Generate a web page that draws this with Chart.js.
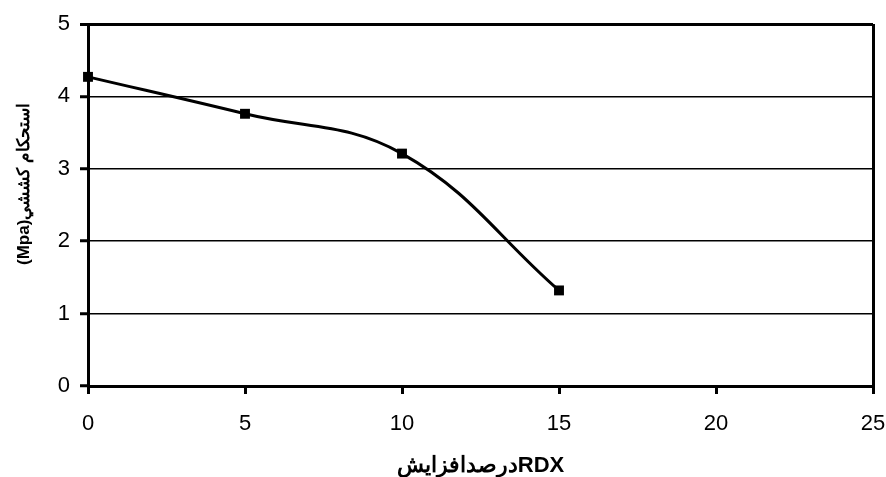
<!DOCTYPE html>
<html>
<head>
<meta charset="utf-8">
<script src="https://cdn.jsdelivr.net/npm/chart.js@4"></script>
<style>
    html, body { margin: 0; padding: 0; background: #fff; }
    #wrap { width: 886px; height: 477px; }
</style>
</head>
<body>
<div id="wrap"><canvas id="chartRdx"></canvas></div>
<script>
// valores
const rdxPercent = [0, 5, 10, 15];
const tensileStrength = [4.27, 3.76, 3.21, 1.32];
const xTicks = [0, 5, 10, 15, 20, 25];
const yTicks = [0, 1, 2, 3, 4, 5];
// LRM al inicio para que RDX quede a la derecha
const xTitle = '\u200EدرصدافزايشRDX';
const yTitle = '(Mpa)استحکام کششي';

const FONT = '"Liberation Sans", Arial, sans-serif';

// titulo del eje Y dibujado a mano (en el original no esta centrado)
const yTitlePlugin = {
    id: 'yTitle',
    afterDraw: (chart) => {
        const { ctx } = chart;
        ctx.save();
        ctx.font = `bold 17px ${FONT}`;
        ctx.fillStyle = '#000';
        ctx.textAlign = 'center';
        ctx.textBaseline = 'middle';
        ctx.translate(24, 184);
        ctx.rotate(-Math.PI / 2);
        ctx.fillText(yTitle, 0, 0);
        ctx.restore();
    }
};

const buildChart = () => {
    const canvas = document.getElementById('chartRdx');
    if (!canvas || typeof Chart === 'undefined') return;

    const points = rdxPercent.map((x, i) => ({ x, y: tensileStrength[i] }));

    new Chart(canvas.getContext('2d'), {
        type: 'line',
        data: {
            datasets: [{
                data: points,
                borderColor: '#000',
                borderWidth: 3,
                tension: 0.4,
                pointStyle: 'rect',
                pointRadius: 7,
                pointBackgroundColor: '#000',
                pointBorderWidth: 0,
                clip: false
            }]
        },
        options: {
            responsive: true,
            maintainAspectRatio: false,
            animation: false,
            layout: { padding: { top: 24, right: 0, left: 0, bottom: 0 } },
            plugins: {
                legend: { display: false },
                tooltip: { enabled: false }
            },
            scales: {
                x: {
                    type: 'linear',
                    min: xTicks[0],
                    max: xTicks[xTicks.length - 1],
                    afterBuildTicks: (scale) => { scale.ticks = xTicks.map(value => ({ value })); },
                    afterFit: (scale) => {
                        scale.height = 91;
                        scale.paddingLeft = 0;
                        scale.paddingRight = 13;
                    },
                    border: { color: '#000', width: 3 },
                    grid: {
                        color: (ctx) => (ctx.tick && ctx.tick.value === 25 ? '#000' : 'rgba(0,0,0,0)'),
                        lineWidth: 3,
                        tickColor: '#000',
                        tickWidth: 3,
                        tickLength: 8
                    },
                    ticks: {
                        color: '#000',
                        padding: 17,
                        font: { family: FONT, size: 22 }
                    },
                    title: {
                        display: true,
                        text: xTitle,
                        color: '#000',
                        padding: { top: 0, bottom: -2 },
                        font: { family: FONT, size: 22, weight: 'bold' }
                    }
                },
                y: {
                    min: yTicks[0],
                    max: yTicks[yTicks.length - 1],
                    afterBuildTicks: (scale) => { scale.ticks = yTicks.map(value => ({ value })); },
                    afterFit: (scale) => { scale.width = 88; },
                    border: { color: '#000', width: 3 },
                    grid: {
                        color: '#000',
                        lineWidth: (ctx) => (ctx.tick && ctx.tick.value === 5 ? 3 : 1.5),
                        tickColor: '#000',
                        tickWidth: 3,
                        tickLength: 8
                    },
                    ticks: {
                        color: '#000',
                        padding: 10,
                        font: { family: FONT, size: 22 }
                    }
                }
            }
        },
        plugins: [yTitlePlugin]
    });
};

document.addEventListener('DOMContentLoaded', buildChart);
</script>
</body>
</html>
